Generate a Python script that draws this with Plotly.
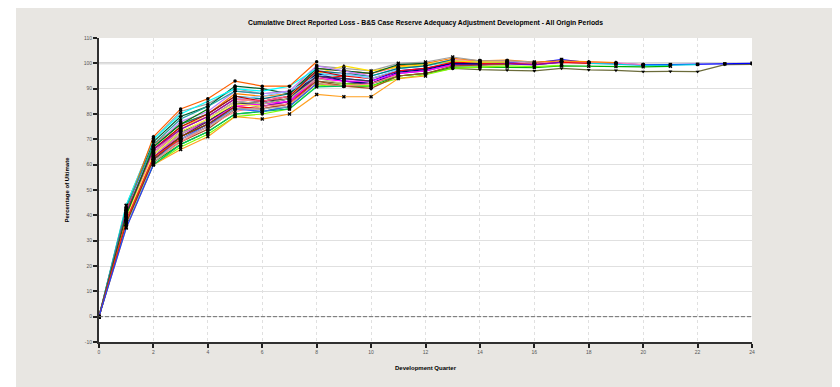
import plotly.graph_objects as go

dev_quarters = list(range(0, 25))

s01 = [0, 38, 62, 70, 75, 82, 83, 85, 93, 92, 92, 95, 96, 98, 97.5, 97.3, 97, 98, 97.4, 97.2, 96.7, 96.8, 96.7, 99.5, 99.6]
s02 = [0, 40, 64, 72, 78, 85, 84, 86, 95, 94, 93, 97, 98, 100, 100, 100.5, 100.2, 101.5, 100.3, 100, 99.4, 99.5, 99.6, 99.8, 100]
s03 = [0, 42, 66, 74, 79, 86, 85, 87, 96, 95, 95, 98, 99, 101, 100.5, 100, 99.5, 100.5, 100, 99.8, 99.2, 99.3, 99.5]
s04 = [0, 37, 61, 68, 73, 80, 81, 83, 92, 91, 91, 95, 96, 98.5, 98.5, 98.5, 98.3, 99, 98.8, 98.7, 98.6, 98.8]
s05 = [0, 41, 65, 73, 78, 85, 86, 87, 97, 96, 96, 98.5, 99, 101.5, 101, 100.8, 100, 100.6, 100.5, 100.2, 99.5]
s06 = [0, 43, 68, 76, 80, 88, 87, 88, 98, 97, 96, 99, 100, 102, 101, 101.3, 100.5, 101, 100.6, 100.3]
s07 = [0, 39, 63, 71, 76, 83, 82, 84, 94, 95, 94, 97, 98, 100.5, 100, 100, 99.6, 100.4, 100]
s08 = [0, 40, 62, 70, 75, 84, 83, 85, 95, 93, 92, 96, 97, 99.5, 99.5, 99.8, 99.4, 100.5]
s09 = [0, 36, 60, 67, 72, 79, 80, 82, 91, 92, 91, 94, 95.5, 98, 98.5, 99, 98.7, 99.2]
s10 = [0, 44, 70, 81, 84, 90, 88, 89, 99, 98, 97, 100, 100.5, 102.5, 101, 101, 100.5]
s11 = [0, 38, 62, 69, 74, 82, 82, 84, 93, 91, 90.1, 95, 96, 99, 99.3, 99.6]
s12 = [0, 41, 66, 75, 79, 86, 85, 87, 96, 99, 97, 98.5, 99.5, 101, 100.5, 100.5]
s13 = [0, 40, 64, 73, 77, 84, 84, 86, 96, 93, 92, 96.5, 97.5, 100, 99.8]
s14 = [0, 42, 67, 76, 80, 87, 86, 88, 97, 96, 95, 98, 99, 101.5]
s15 = [0, 39, 63, 72, 77, 83, 84, 85, 94, 93, 93, 96, 97, 99.5]
s16 = [0, 35, 60, 66, 71, 79, 78, 80, 87.7, 86.8, 86.8, 94, 95]
s17 = [0, 43, 69, 79, 83, 91, 90, 88, 98, 97, 96, 99.5, 100]
s18 = [0, 41, 65, 74, 79, 86, 87, 89, 95, 96, 94, 97.5]
s19 = [0, 38, 61, 69, 75, 81, 83, 84, 92, 91, 92, 95.5]
s20 = [0, 40, 63, 71, 77, 84, 85, 86, 95, 94, 93]
s21 = [0, 42, 67, 77, 81, 89, 88, 89, 99, 97, 95]
s22 = [0, 37, 60, 68, 73, 80, 81, 82, 90.7, 91]
s23 = [0, 41, 66, 75, 80, 87, 85, 87, 97, 95]
s24 = [0, 39, 64, 72, 78, 85, 84, 86, 94, 92]
s25 = [0, 44, 70, 80, 85, 90, 89, 91, 98]
s26 = [0, 38, 62, 70, 76, 82, 81, 83, 92]
s27 = [0, 42, 71, 82, 86, 93, 91, 91, 100.6]
s28 = [0, 40, 65, 74, 79, 86, 85, 87]
s29 = [0, 36, 61, 70, 75, 82, 82, 83]
s30 = [0, 43, 68, 78, 83, 89, 88]
s31 = [0, 39, 64, 73, 78, 84, 83]
s32 = [0, 41, 66, 74, 79, 86]
s33 = [0, 37, 62, 71, 76, 83]
s34 = [0, 40, 67, 76, 82]
s35 = [0, 38, 63, 70]
s36 = [0, 35, 60]

series = [s01, s02, s03, s04, s05, s06, s07, s08, s09, s10, s11, s12,
          s13, s14, s15, s16, s17, s18, s19, s20, s21, s22, s23, s24,
          s25, s26, s27, s28, s29, s30, s31, s32, s33, s34, s35, s36]

x_tick_vals = list(range(0, 25, 2))
y_tick_vals = list(range(-10, 111, 10))

title_text = "Cumulative Direct Reported Loss - B&S Case Reserve Adequacy Adjustment Development - All Origin Periods"
x_title = "Development Quarter"
y_title = "Percentage of Ultimate"

palette = ["#6b6b3a", "#0000ff", "#00d0e0", "#00b000", "#ff80c0", "#ff8000",
           "#ff0000", "#8000c0", "#80ff00", "#a0a0a0", "#a05020", "#ffe000",
           "#000080", "#008080", "#ff00ff", "#ffa020", "#006030", "#80c0ff",
           "#ff8080", "#404040", "#c080ff", "#00c060", "#c00000", "#c0c080",
           "#00ffff", "#3060ff", "#ff6000", "#ff60a0", "#b0b0b0", "#20a0a0",
           "#ffff40", "#a000a0", "#804000", "#008000", "#ff2020", "#2040ff"]
symbols = ["triangle-down", "square", "circle", "x", "diamond", "triangle-up"]

fig = go.Figure()

for i, vals in enumerate(series):
    fig.add_trace(go.Scatter(
        x=dev_quarters[:len(vals)], y=vals, mode="lines",
        line=dict(color=palette[i % len(palette)], width=1.2),
        showlegend=False, hoverinfo="skip"))

for i, vals in enumerate(series):
    fig.add_trace(go.Scatter(
        x=dev_quarters[:len(vals)], y=vals, mode="markers",
        marker=dict(color="black", size=3.5, symbol=symbols[i % len(symbols)],
                    line=dict(width=0)),
        showlegend=False, hoverinfo="skip"))

FONT = "Liberation Sans, Arial, sans-serif"
tick_font = dict(family=FONT, size=5, color="#555555")
bold_font = dict(family=FONT, size=6, color="black")

# page body has an 8px margin, so the paper is 832 x 379 starting at (8, 8)
W, H = 832, 379
L, R, T, B = 91, 88, 30, 45
PW, PH = W - L - R, H - T - B

fig.update_layout(
    width=W, height=H,
    margin=dict(l=L, r=R, t=T, b=B, pad=0),
    paper_bgcolor="#e8e6e2",
    plot_bgcolor="white",
    title=dict(text="<b>" + title_text + "</b>", x=(L + PW / 2) / W, xanchor="center",
               y=1 - 15 / H, yanchor="middle",
               font=dict(family=FONT, size=6.8, color="black")),
    xaxis=dict(range=[0, 24], tickvals=x_tick_vals, ticktext=[str(v) for v in x_tick_vals],
               showgrid=True, gridcolor="#e0e0e0", griddash="dot", gridwidth=1,
               zeroline=False, showline=True, linecolor="#303030", linewidth=2,
               ticks="outside", ticklen=4, tickwidth=1.5, tickcolor="#202020",
               tickfont=tick_font,
               title=dict(text="<b>" + x_title + "</b>", font=bold_font, standoff=12)),
    yaxis=dict(range=[-10, 110], tickvals=y_tick_vals, ticktext=[str(v) for v in y_tick_vals],
               showgrid=True, gridcolor="#e0e0e0", gridwidth=1,
               zeroline=False, showline=True, linecolor="#303030", linewidth=2,
               ticks="outside", ticklen=4, tickwidth=1.5, tickcolor="#202020",
               tickfont=tick_font,
               title=dict(text="<b>" + y_title + "</b>", font=bold_font, standoff=14)),
    shapes=[
        dict(type="rect", xref="paper", yref="paper", x0=-L / PW, x1=(8 - L) / PW,
             y0=-B / PH, y1=1 + T / PH, fillcolor="white", line=dict(width=0), layer="below"),
        dict(type="line", xref="paper", yref="y", x0=0, x1=1, y0=100, y1=100,
             line=dict(color="#c8c8c8", width=2), layer="below"),
        dict(type="line", xref="paper", yref="y", x0=0, x1=1, y0=0, y1=0,
             line=dict(color="#707070", width=1, dash="4px,2px"), layer="above"),
    ],
)

fig.write_html("out.html")
